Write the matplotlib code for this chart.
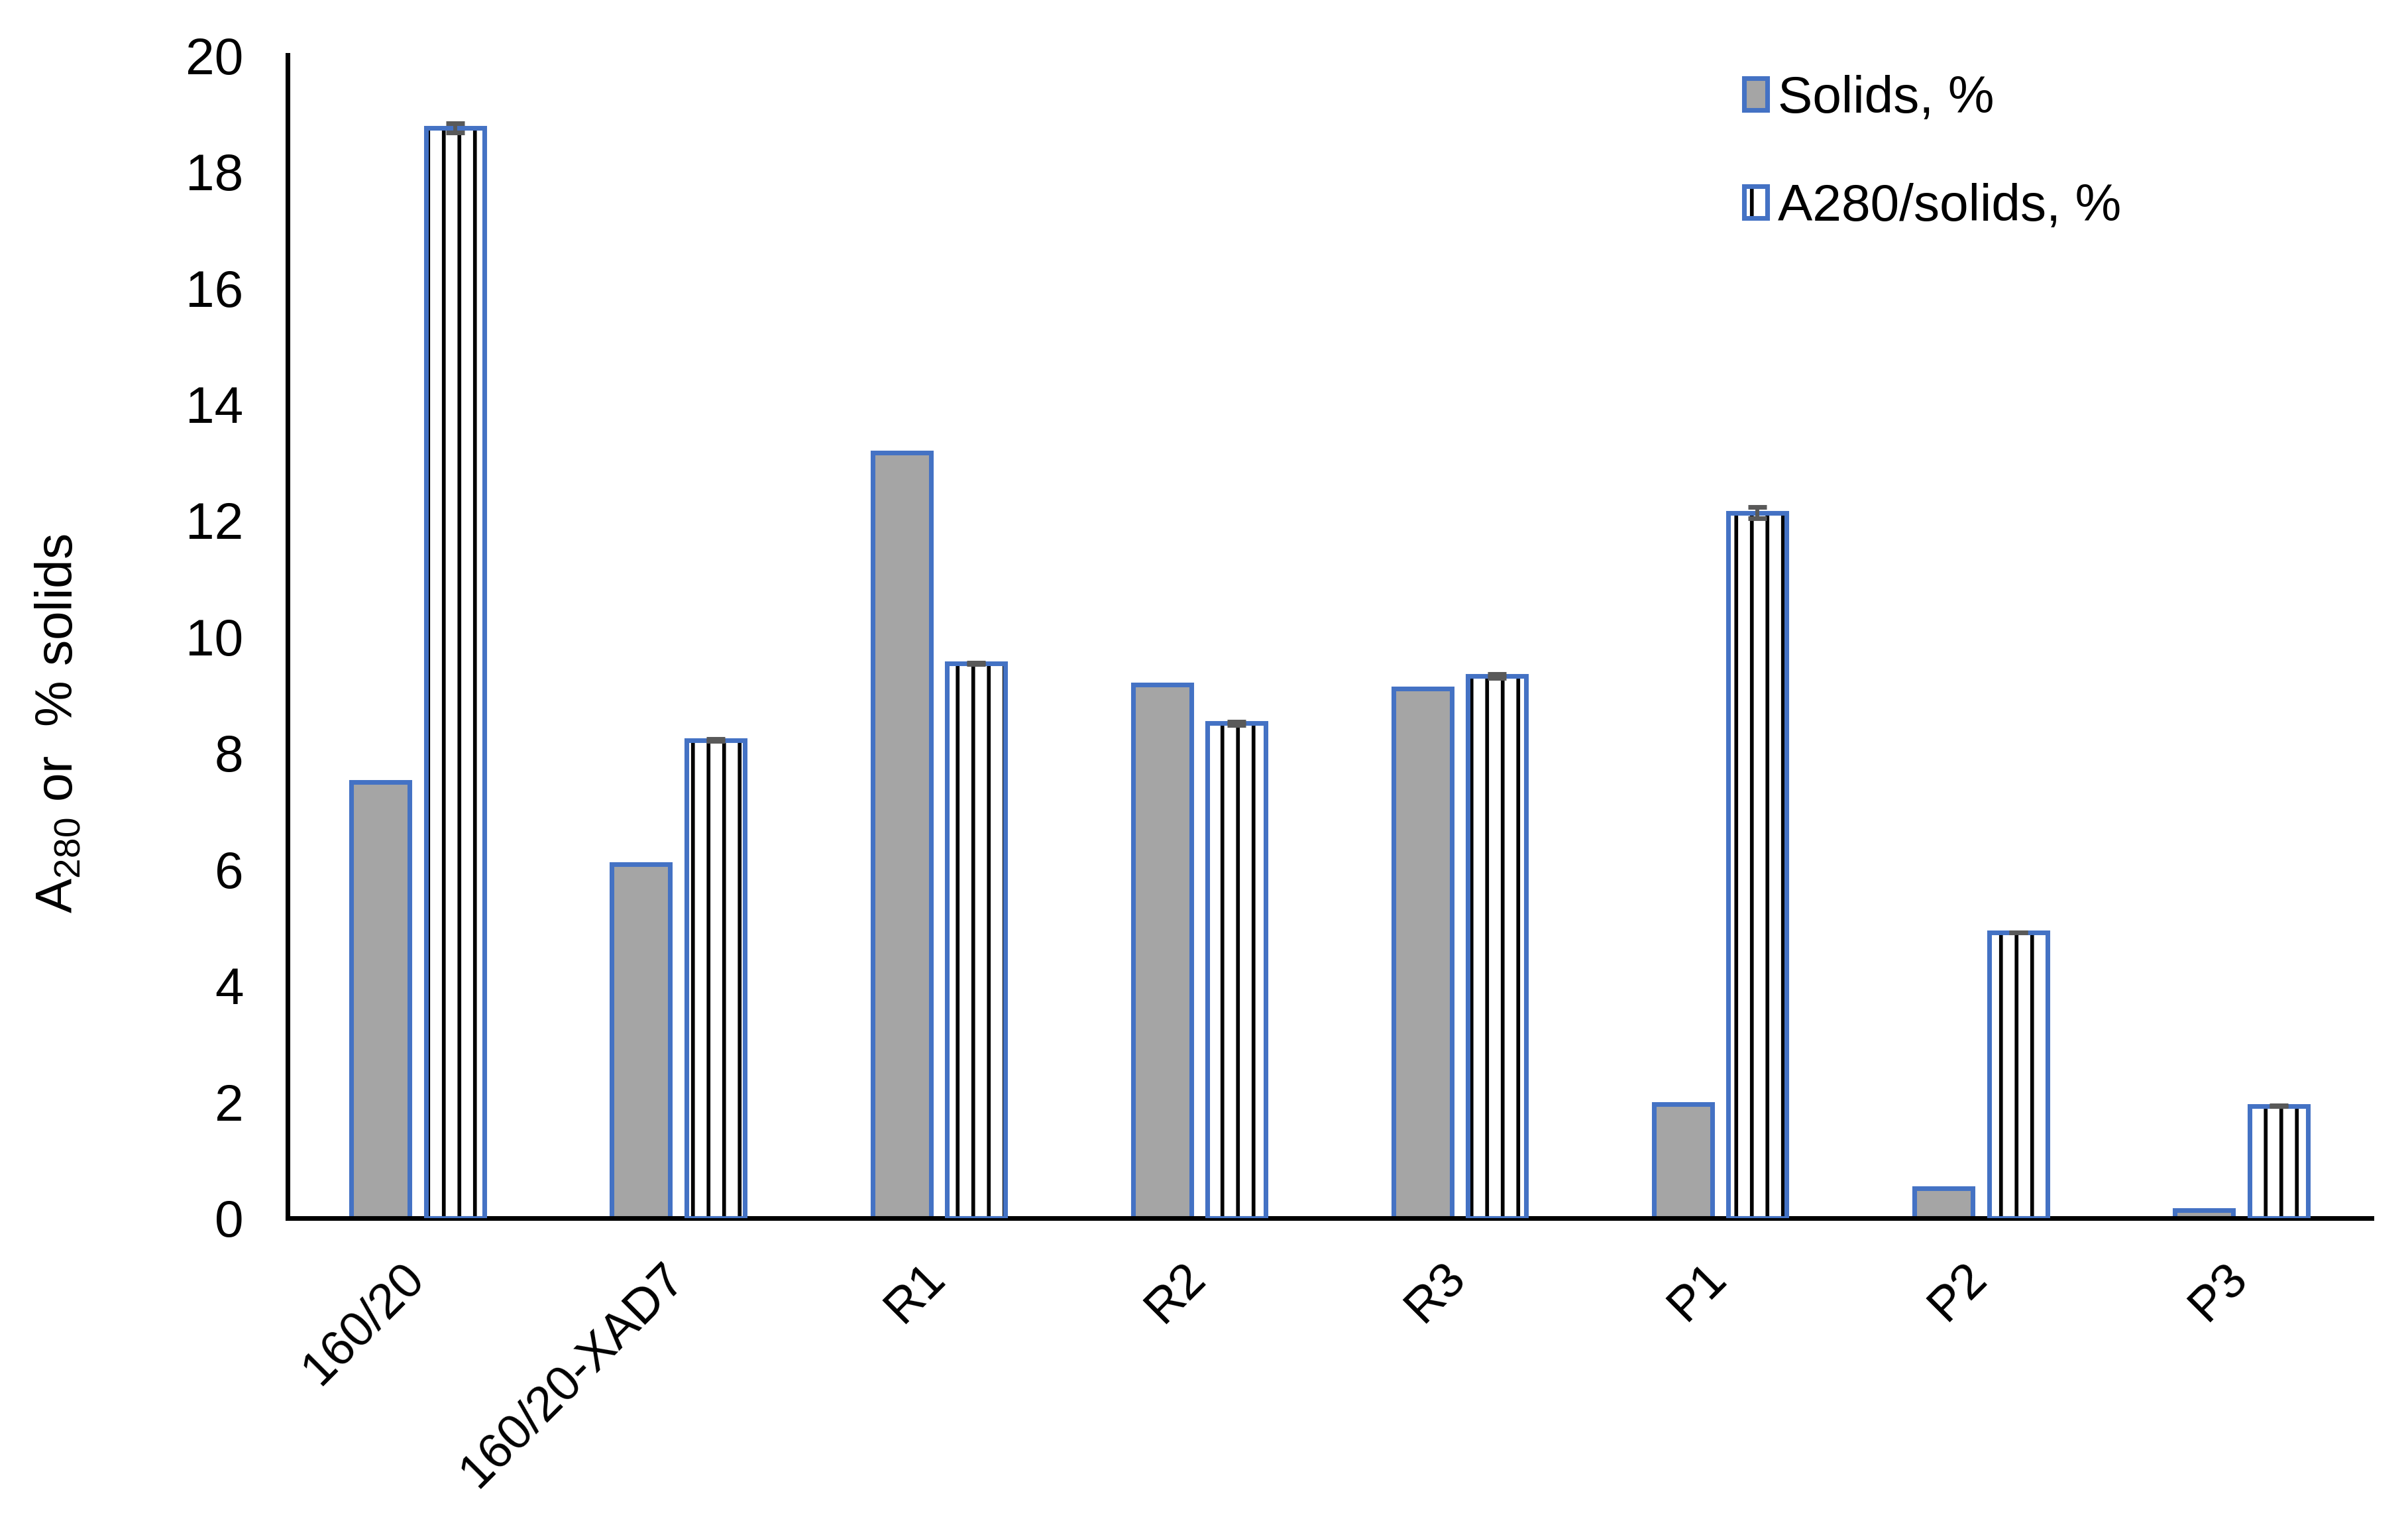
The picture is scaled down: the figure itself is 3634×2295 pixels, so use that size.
import numpy as np
import matplotlib
matplotlib.use("Agg")
import matplotlib.pyplot as plt
from matplotlib.transforms import ScaledTranslation

# -------------------------
# Data
# -------------------------

categories = ["160/20", "160/20-XAD7", "R1", "R2", "R3", "P1", "P2", "P3"]
solids = [7.50, 6.08, 13.16, 9.17, 9.11, 1.96, 0.51, 0.13]
a280 = [18.75, 8.22, 9.54, 8.51, 9.32, 12.13, 4.91, 1.93]
a280_err = [0.08, 0.02, 0.01, 0.03, 0.03, 0.10, 0.005, 0.005]

# -------------------------
# Style
# -------------------------

plt.rcParams["font.family"] = ["Liberation Sans", "DejaVu Sans"]
plt.rcParams["mathtext.default"] = "regular"
plt.rcParams["hatch.linewidth"] = 1.45

DPI = 282
blue = "#4472C4"
grey = "#A5A5A5"
err_col = "#595959"
lw = 1.8

fig = plt.figure(figsize=(3634 / DPI, 2295 / DPI), dpi=DPI)
ax = fig.add_axes([0.1194, 0.1992, 0.8655, 0.7646])

x = np.arange(len(categories))
w = 0.224
off = 0.143

# solids bars
b1 = ax.bar(x - off, solids, w, color=grey, edgecolor=blue, linewidth=lw, zorder=2)

# hatched bars: black hatch first, blue outline on top
b2h = ax.bar(x + off, a280, w, color="white", edgecolor="black", hatch="||",
             linewidth=0, zorder=2)
b2o = ax.bar(x + off, a280, w, fill=False, edgecolor=blue, linewidth=lw, zorder=3)

ax.errorbar(x + off, a280, yerr=a280_err, fmt="none", ecolor=err_col,
            elinewidth=1.5, capsize=3.7, capthick=1.8, zorder=4)

# -------------------------
# Axes
# -------------------------

ax.set_xlim(-0.5, len(categories) - 0.5)
ax.set_ylim(0, 20)
ax.set_yticks(np.arange(0, 21, 2))
ax.set_xticks(x)
ax.set_xticklabels(categories, rotation=45, ha="right", rotation_mode="anchor")

ax.tick_params(axis="y", length=0, pad=17, labelsize=20)
ax.tick_params(axis="x", length=0, pad=14, labelsize=19)

shift = ScaledTranslation(-26 / DPI, 0, fig.dpi_scale_trans)
for lab in ax.get_xticklabels():
    lab.set_transform(lab.get_transform() + shift)

for s in ["top", "right"]:
    ax.spines[s].set_visible(False)
for s in ["left", "bottom"]:
    ax.spines[s].set_linewidth(lw)
    ax.spines[s].set_color("black")

ax.set_ylabel("A$_{280}$ or  % solids", fontsize=20)
ax.yaxis.set_label_coords(-0.098, 0.425)

ax.legend([b1, (b2h, b2o)], ["Solids, %", "A280/solids, %"],
          loc="upper left", bbox_to_anchor=(0.7136, 0.968),
          bbox_transform=fig.transFigure, frameon=False, fontsize=20,
          handlelength=0.44, handleheight=0.58, handletextpad=0.2,
          labelspacing=1.15, borderpad=0)

fig.savefig("out.png", dpi=DPI)
